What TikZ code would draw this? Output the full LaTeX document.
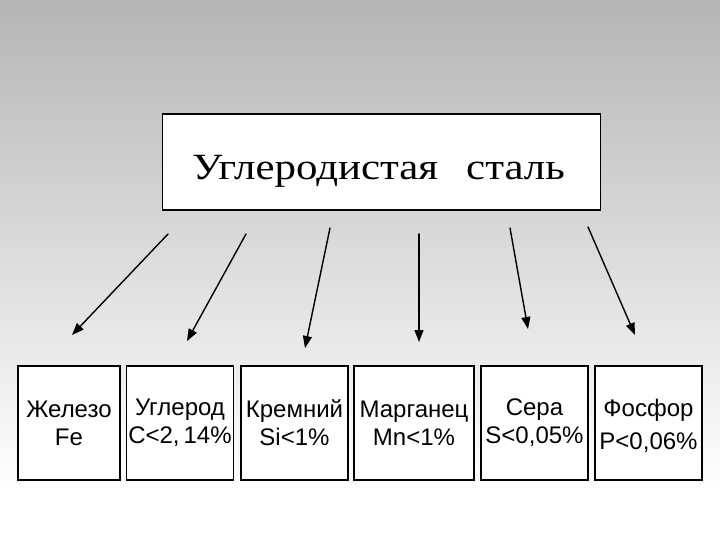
\documentclass[tikz,border=0pt]{standalone}
\usepackage{fontspec}
\setmainfont{Liberation Serif}
\newfontfamily\titlefont[FakeStretch=1.16]{Liberation Serif}
\newfontfamily\elemfont{Liberation Sans}
\usetikzlibrary{arrows.meta}
\definecolor{bgtop}{gray}{0.71}

\begin{document}
\begin{tikzpicture}[x=1pt, y=-1pt, line cap=round,
  box/.style={draw, fill=white, line width=1.2pt, inner sep=0pt},
  elem/.style={box, minimum height=114pt, align=center,
    font=\elemfont\fontsize{24}{28}\selectfont},
  arr/.style={-{Triangle[length=12pt,width=9pt]}, line width=1.4pt}]
  \useasboundingbox (0,0) rectangle (720,540);
  % background: grey at the top, fading to white
  \shade[top color=bgtop, bottom color=white] (0,0) rectangle (720,490);
  \fill[white] (0,490) rectangle (720,540);
  % main box
  \node[box, minimum width=438pt, minimum height=96pt,
    text height=46pt, text depth=10pt,
    font=\titlefont\fontsize{37}{40}\selectfont] (steel) at (381.5,162)
    {\hspace{-6pt}Углеродистая\hspace{28pt}сталь};
  % element boxes
  \node[elem, minimum width=102pt] (fe) at (69,423)    {Железо\\Fe};
  \node[elem, minimum width=107pt] (c)  at (180,423)   {Углерод\\C<2,\,14\%};
  \node[elem, minimum width=107pt] (si) at (294.5,423) {Кремний\\Si<1\%};
  \node[elem, minimum width=120pt] (mn) at (414,423)   {Марганец\\Mn<1\%};
  \node[elem, minimum width=107pt] (s)  at (534.5,423) {Сера\\S<0,05\%};
  \node[elem, minimum width=107pt] (p)  at (648.5,423)
    {Фосфор\\\raisebox{-5pt}[\height][\depth]{P<0,06\%}};
  % arrows from the main box down to the elements
  \foreach \n/\sx/\sy/\ex/\ey in {1/168/234/72/335, 2/246/234/187/341,
      3/330/228/305/348, 4/419/234/419/342, 5/510/228/528/329,
      6/588/227/635/335}{
    \coordinate (s\n) at (\sx,\sy);
    \coordinate (e\n) at (\ex,\ey);
    \draw[arr] (s\n) -- (e\n);
  }
\end{tikzpicture}
\end{document}
